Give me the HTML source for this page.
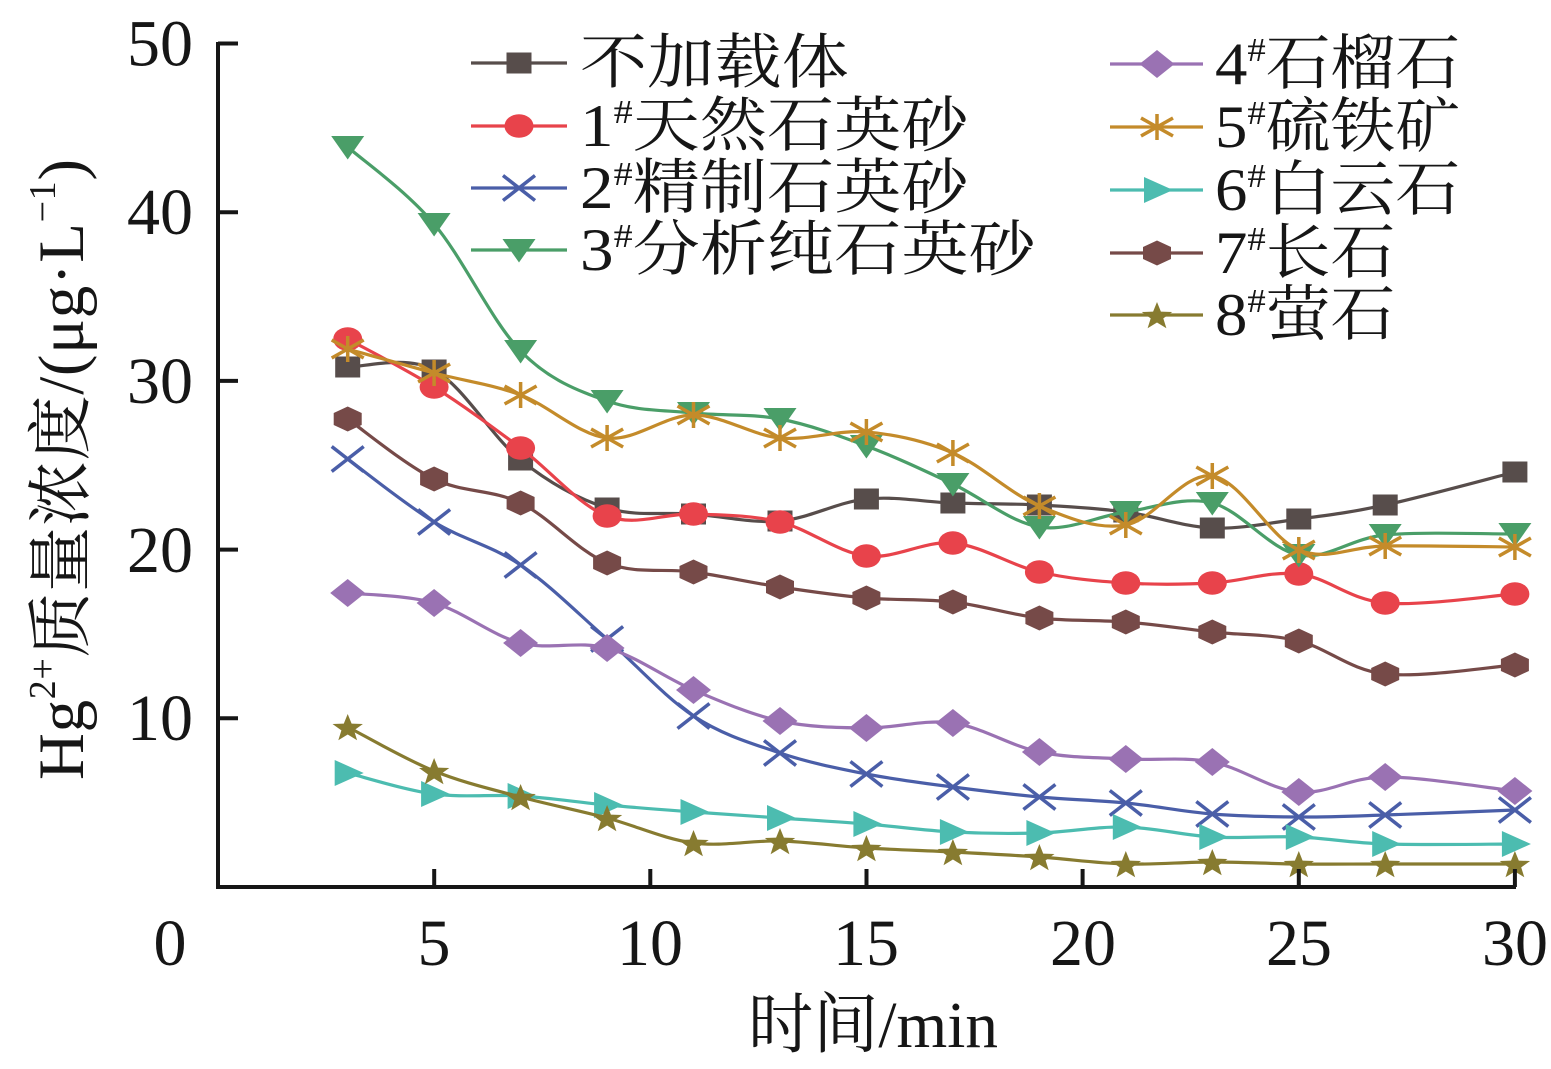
<!DOCTYPE html>
<html><head><meta charset="utf-8">
<style>
html,body{margin:0;padding:0;background:#fff;}
svg{display:block;}
text{font-family:"Liberation Serif","Noto Serif CJK SC",serif;fill:#161616;}
</style></head><body>
<svg id="c" width="1551" height="1069" viewBox="0 0 1551 1069" xmlns="http://www.w3.org/2000/svg">
<rect width="1551" height="1069" fill="#fff"/>
<g id="series"></g>
<g stroke="#161616" stroke-width="4" fill="none" stroke-linecap="butt">
<path d="M218,42 V887 H1516"/>
<path d="M218,43.5 H238 M218,212.2 H238 M218,380.9 H238 M218,549.6 H238 M218,718.3 H238"/>
<path d="M434.2,887 V869 M650.3,887 V869 M866.5,887 V869 M1082.6,887 V869 M1298.8,887 V869 M1514.9,887 V869"/>
</g>
<g font-size="66" text-anchor="end">
<text x="193" y="65.5">50</text>
<text x="193" y="234">40</text>
<text x="193" y="403">30</text>
<text x="193" y="572">20</text>
<text x="193" y="740">10</text>
</g>
<g font-size="66" text-anchor="middle">
<text x="170" y="965">0</text>
<text x="434" y="965">5</text>
<text x="650" y="965">10</text>
<text x="866" y="965">15</text>
<text x="1083" y="965">20</text>
<text x="1299" y="965">25</text>
<text x="1515" y="965">30</text>
</g>
<text x="748" y="1047" font-size="66" textLength="250" lengthAdjust="spacingAndGlyphs">时间/min</text>
<text transform="translate(83,780) rotate(-90)" font-size="65" textLength="621" lengthAdjust="spacing">Hg<tspan font-size="38" dy="-28">2+</tspan><tspan dy="28">质量浓度/(μg·L</tspan><tspan font-size="38" dy="-28">−1</tspan><tspan dy="28">)</tspan></text>
<g id="legend"></g>
<g font-size="60">
<text transform="translate(580,83) scale(1.12,1)">不加载体</text>
<text transform="translate(580,146) scale(1.12,1)">1<tspan font-size="34" dy="-23">#</tspan><tspan dy="23">天然石英砂</tspan></text>
<text transform="translate(580,208) scale(1.12,1)">2<tspan font-size="34" dy="-23">#</tspan><tspan dy="23">精制石英砂</tspan></text>
<text transform="translate(580,270) scale(1.12,1)">3<tspan font-size="34" dy="-23">#</tspan><tspan dy="23">分析纯石英砂</tspan></text>
<text transform="translate(1215,84) scale(1.08,1)">4<tspan font-size="34" dy="-23">#</tspan><tspan dy="23">石榴石</tspan></text>
<text transform="translate(1215,147) scale(1.08,1)">5<tspan font-size="34" dy="-23">#</tspan><tspan dy="23">硫铁矿</tspan></text>
<text transform="translate(1215,210) scale(1.08,1)">6<tspan font-size="34" dy="-23">#</tspan><tspan dy="23">白云石</tspan></text>
<text transform="translate(1215,273) scale(1.08,1)">7<tspan font-size="34" dy="-23">#</tspan><tspan dy="23">长石</tspan></text>
<text transform="translate(1215,335) scale(1.08,1)">8<tspan font-size="34" dy="-23">#</tspan><tspan dy="23">萤石</tspan></text>
</g>
</svg>
<script>
(function(){
var X=[3,5,7,9,11,13,15,17,19,21,23,25,27,30].map(function(t){return 218+t*43.23;});
var S=[
 {c:'#574d4b',m:'sq',y:[367,370,460,508,514,521,499,503,505,512,528,519,505,472]},
 {c:'#e8434b',m:'ci',y:[339,387,448,516,514,522,556,543,572,583,583,574,603,594]},
 {c:'#4a5ea8',m:'x',y:[459,522,565,639,716,753,774,787,797,803,814,817,815,810]},
 {c:'#4a9e68',m:'td',y:[147,224,351,401,413,419,446,484,527,512,503,555,535,534]},
 {c:'#9a72b3',m:'di',y:[593,603,643,648,690,721,728,723,752,759,762,792,777,791]},
 {c:'#c48b2a',m:'as',y:[349,373,395,438,415,438,432,453,506,525,476,550,546,547]},
 {c:'#4cbcb0',m:'tr',y:[773,794,796,805,812,818,824,832,833,827,837,837,844,844]},
 {c:'#764a48',m:'hx',y:[419,479,503,563,572,587,598,602,618,622,632,641,674,665]},
 {c:'#877b30',m:'st',y:[727,771,797,818,843,841,848,852,857,864,862,864,864,864]}
];
function f(v){return v.toFixed(1);}
function pathD(P){
 var d='M'+f(P[0][0])+','+f(P[0][1]);
 for(var i=0;i<P.length-1;i++){
  var p0=P[i>0?i-1:0],p1=P[i],p2=P[i+1],p3=P[i+2<P.length?i+2:P.length-1];
  var c1x=p1[0]+(p2[0]-p0[0])/6,c1y=p1[1]+(p2[1]-p0[1])/6;
  var c2x=p2[0]-(p3[0]-p1[0])/6,c2y=p2[1]-(p3[1]-p1[1])/6;
  d+=' C'+f(c1x)+','+f(c1y)+' '+f(c2x)+','+f(c2y)+' '+f(p2[0])+','+f(p2[1]);
 }
 return d;
}
function poly(pts,x,y,c){
 return '<polygon points="'+pts.map(function(p){return f(x+p[0])+','+f(y+p[1]);}).join(' ')+'" fill="'+c+'"/>';
}
function mk(t,x,y,c){
 switch(t){
 case 'sq':return '<rect x="'+f(x-12.5)+'" y="'+f(y-10.5)+'" width="25" height="21" fill="'+c+'"/>';
 case 'ci':return '<ellipse cx="'+f(x)+'" cy="'+f(y)+'" rx="14.5" ry="11.8" fill="'+c+'"/>';
 case 'x':return '<path d="M'+f(x-16)+','+f(y-12.5)+' L'+f(x+16)+','+f(y+12.5)+' M'+f(x-16)+','+f(y+12.5)+' L'+f(x+16)+','+f(y-12.5)+'" stroke="'+c+'" stroke-width="3.5" fill="none"/>';
 case 'td':return poly([[-16.5,-11],[16.5,-11],[0,12.5]],x,y,c);
 case 'di':return poly([[0,-14],[17.5,0],[0,14],[-17.5,0]],x,y,c);
 case 'as':return '<path d="M'+f(x)+','+f(y-13)+' V'+f(y+13)+' M'+f(x-16)+','+f(y-9)+' L'+f(x+16)+','+f(y+9)+' M'+f(x-16)+','+f(y+9)+' L'+f(x+16)+','+f(y-9)+'" stroke="'+c+'" stroke-width="3.5" fill="none"/>';
 case 'tr':return poly([[-13,-13],[-13,13],[16,0]],x,y,c);
 case 'hx':return poly([[0,-12.5],[14,-6],[14,6],[0,12.5],[-14,6],[-14,-6]],x,y,c);
 case 'st':
  var p=[];for(var k=0;k<10;k++){var r=k%2?6:14.5;var a=-Math.PI/2+k*Math.PI/5;p.push([r*Math.cos(a)*1.1,r*Math.sin(a)+1.5]);}
  return poly(p,x,y,c);
 }
 return '';
}
var h='';
S.forEach(function(s){
 var P=X.map(function(x,i){return [x,s.y[i]];});
 h+='<path d="'+pathD(P)+'" stroke="'+s.c+'" stroke-width="3.2" fill="none"/>';
 P.forEach(function(p){h+=mk(s.m,p[0],p[1],s.c);});
});
document.getElementById('series').innerHTML=h;
var L='';
var left=[63,126,188,250],right=[64,127,190,253,315];
S.forEach(function(s,i){
 var x1,x2,cx,y;
 if(i<4){x1=471;x2=567;cx=519;y=left[i];}
 else{x1=1110;x2=1203;cx=1157;y=right[i-4];}
 L+='<path d="M'+x1+','+y+' H'+x2+'" stroke="'+s.c+'" stroke-width="3.2"/>';
 L+=mk(s.m,cx,y,s.c);
});
document.getElementById('legend').innerHTML=L;
})();
</script>
</body></html>
